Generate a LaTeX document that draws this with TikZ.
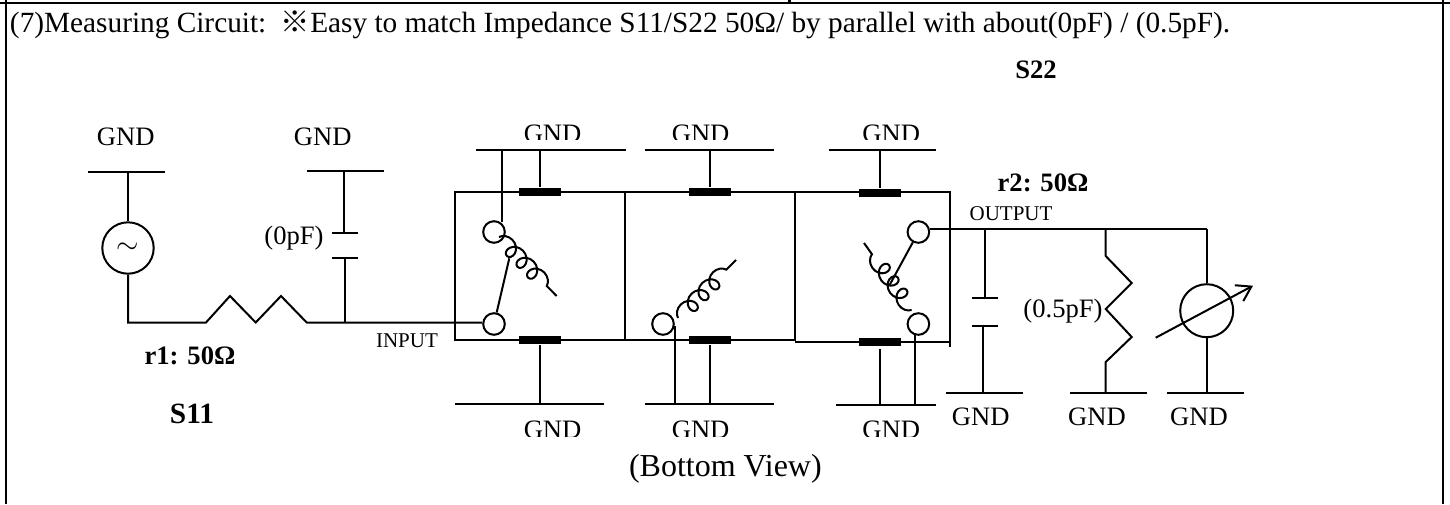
\documentclass[tikz,border=0pt]{standalone}
\usepackage{fontspec}
\setmainfont{Liberation Serif}
\newfontfamily\cjk{Noto Sans CJK SC}
\usetikzlibrary{positioning, arrows.meta, calc, decorations.pathmorphing}

\begin{document}
\begin{tikzpicture}[
  x=0.5pt, y=-0.5pt,
  line width=1pt,
  every node/.style={inner sep=0pt},
  gnd/.style={font=\fontsize{13.3}{16}\selectfont},
  txtlabel/.style={font=\fontsize{13.3}{16}\selectfont},
  boldlabel/.style={font=\fontsize{13.3}{16}\selectfont\bfseries},
  pinlabel/.style={font=\fontsize{10.5}{12}\selectfont},
  port/.style={circle,draw,fill=white,minimum size=10.8pt},
  pad/.style={rectangle,fill=black,minimum width=21pt,minimum height=4pt},
  frameline/.style={line width=1.3pt},
  coilwire/.style={decorate,decoration={coil,aspect=1,amplitude=3.8pt,segment length=7.6pt}}
]
\useasboundingbox (0,0) rectangle (1450,504);

% outer frame
\draw[frameline] (6,504) -- (6,0) (0,3) -- (1450,3) (789.5,0) -- (789.5,3) (1443,0) -- (1443,504);

\node[txtlabel, font=\fontsize{14.65}{16}\selectfont, anchor=west] (title) at (9,25) {(7)Measuring Circuit:\ \ {\cjk ※}Easy to match Impedance S11/S22 50Ω/ by parallel with about(0pF) / (0.5pF).};
\node[boldlabel] (s22) at (1036,70) {S22};
\node[boldlabel] (r1) at (190,356) {r1: 50Ω};
\node[boldlabel] (r2) at (1043,183) {r2: 50Ω};
\node[boldlabel, font=\fontsize{14.7}{16}\selectfont\bfseries] (s11) at (192,414) {S11};
\node[pinlabel] (input) at (407,341) {INPUT};
\node[pinlabel] (output) at (1011,214) {OUTPUT};
\node[txtlabel] (c1) at (294,238) {(0pF)};
\node[txtlabel] (c2) at (1063,311) {(0.5pF)};
\node[txtlabel, font=\fontsize{16}{18}\selectfont, anchor=west] (view) at (628,469) {(Bottom View)};

% ground rails
\foreach \name/\xa/\xb/\yy in {gs/88/165/172, gc/307/384/171, t1/476/625.6/150, t2/645/774/150, t3/829.4/936.3/150,
    b1/455/604/404, b2/645/774/404, b3/836/936/405, go/946/1023/393, gr/1070/1147/393, gm/1167/1244/393}
{
  \coordinate (\name l) at (\xa,\yy);
  \coordinate (\name r) at (\xb,\yy);
  \draw (\name l) -- (\name r);
}

% ground labels
\node[gnd] (gs0) at (125.7,137) {GND};
\node[gnd] (gc0) at (322.7,137) {GND};
\node[gnd] (go0) at (980.7,417) {GND};
\node[gnd] (gr0) at (1097,417) {GND};
\node[gnd] (gm0) at (1199,417) {GND};
\begin{scope}
  \clip (500,110) rectangle (950,139.5);
  \node[gnd] (t10) at (552.6,133.5) {GND};
  \node[gnd] (t20) at (700.6,133.5) {GND};
  \node[gnd] (t30) at (891.3,133.5) {GND};
\end{scope}
\begin{scope}
  \clip (500,410) rectangle (950,436);
  \node[gnd] (b10) at (552.6,430) {GND};
  \node[gnd] (b20) at (700.6,430) {GND};
  \node[gnd] (b30) at (891.3,430) {GND};
\end{scope}

% package
\coordinate (boxa) at (455.2,192);
\coordinate (boxb) at (625,192);
\coordinate (boxc) at (795,192);
\coordinate (boxd) at (949.8,192);
\coordinate (boxe) at (455.2,340);
\coordinate (boxf) at (625,340);
\coordinate (boxg) at (795,340);
\coordinate (boxh) at (795,342);
\coordinate (boxi) at (949.8,342);
\coordinate (boxj) at (949.8,347);
\draw (boxf) -- (boxe) -- (boxa) -- (boxd) -- (boxj);
\draw (boxb) -- (boxf) -- (boxg) -- (boxc);
\draw (boxh) -- (boxi);

\node[pad] (pt1) at (540,192) {};
\node[pad] (pt2) at (709.8,192) {};
\node[pad] (pt3) at (879.5,193) {};
\node[pad] (pb1) at (540,340) {};
\node[pad] (pb2) at (709.8,340) {};
\node[pad] (pb3) at (879.5,342) {};
\coordinate (pb3tap) at (879.5,349);

\draw (pt1) -- (pt1 |- t1l);
\draw (pt2) -- (pt2 |- t2l);
\draw (pt3) -- (pt3 |- t3l);
\draw (pb1) -- (pb1 |- b1l);
\draw (pb2) -- (pb2 |- b2l);
\draw (pb3tap) -- (pb3tap |- b3l);

% ports, switches and coils
\coordinate (p1top) at (502,222);
\draw (p1top) -- (p1top |- t1l);
\node[port] (p1) at (494,232) {};
\node[port] (p2) at (494,324) {};
\node[port] (p3) at (663,324) {};
\node[port] (p4) at (918.4,232) {};
\node[port] (p5) at (918.4,324) {};
\coordinate (p3low) at (674.6,326);
\coordinate (p5low) at (914.6,334);
\draw (p3low) -- (p3low |- b2l);
\draw (p5low) -- (p5low |- b3l);

\coordinate (sw1) at (509.3,258.3);
\coordinate (sw2) at (889.6,285);
\draw (p2) -- (sw1);
\draw (p4) -- (sw2);

\coordinate (l1a) at (499,237);
\coordinate (l1b) at (556.6,296);
\coordinate (l2a) at (678,318);
\coordinate (l2b) at (736,260);
\coordinate (l3a) at (911.6,310);
\coordinate (l3b) at (864,243);
\draw[coilwire] (l1a) -- (l1b);
\draw[coilwire] (l2a) -- (l2b);
\draw[coilwire] (l3a) -- (l3b);

% input side
\node[circle,draw,minimum size=25.7pt] (src) at (128,248) {\Large$\sim$};
\coordinate (n1) at (128,322.5);
\coordinate (n2) at (345,322.5);
\coordinate (c1top) at (344,233);
\coordinate (c1bot) at (345,258);
\draw (src) -- (src |- gsl);
\draw (src) -- (n1) -- (206,322.5) -- (230,296) -- (255.7,322.5) -- (281,296) -- (306.7,322.5) -- (n2) -- (n2 -| p2.west);
\draw (c1top) -- (c1top |- gcl);
\draw (c1bot) -- (n2);
\draw (332,233) -- (358,233);
\draw (332,258) -- (358,258);

% output side
\coordinate (n3) at (984.7,229);
\coordinate (n4) at (1105.7,229);
\coordinate (n5) at (1206.7,229);
\coordinate (c2top) at (984.7,298);
\coordinate (c2bot) at (983,326);
\draw (p4.east |- n3) -- (n5);
\draw (n3) -- (c2top);
\draw (c2bot) -- (c2bot |- gol);
\draw (972,298) -- (998,298);
\draw (972,326) -- (998,326);
\draw (n4) -- (1105.7,256) -- (1131.7,283) -- (1105.7,309) -- (1131.7,337) -- (1105.7,362) -- (1105.7,393);
\node[circle,draw,minimum size=26.5pt] (meter) at (1206.7,310.7) {};
\draw (n5) -- (meter);
\draw (meter) -- (meter |- gml);
\coordinate (arra) at (1155.7,337.7);
\coordinate (arrb) at (1253,285.7);
\draw[-{Straight Barb[length=7pt,width=9pt]}] (arra) -- (arrb);

\end{tikzpicture}
\end{document}
